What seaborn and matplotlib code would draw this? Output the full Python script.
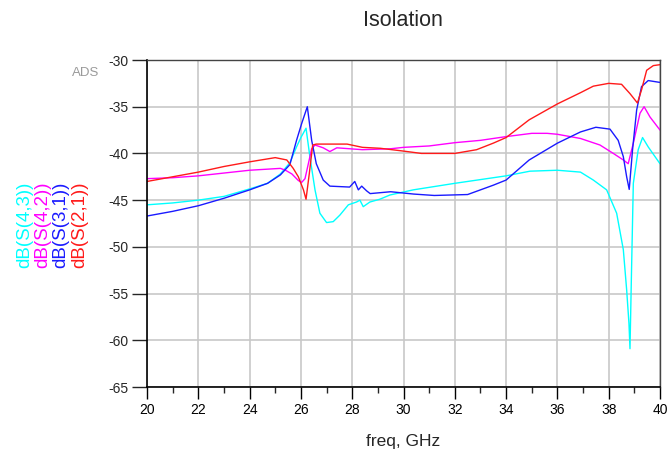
import matplotlib
matplotlib.use("Agg")
import matplotlib.pyplot as plt
import seaborn as sns
import pandas as pd
from matplotlib.ticker import MultipleLocator

# ---- data ----
freq_s21 = [20, 21, 22, 23, 24, 25, 25.45, 25.7, 25.9, 26.1, 26.2, 26.33, 26.46, 26.6,
            27.1, 27.8, 28.4, 29.1, 30, 30.7, 32, 32.85, 33.5, 34, 34.9, 36, 36.9, 37.4,
            38.0, 38.5, 38.83, 39.12, 39.28, 39.48, 39.74, 40]
db_s21 = [-43.0, -42.5, -42.0, -41.4, -40.9, -40.45, -40.7, -41.6, -42.5, -43.9, -44.9,
          -42.1, -39.1, -39.0, -39.0, -39.0, -39.35, -39.45, -39.75, -40.0, -40.0, -39.6,
          -38.9, -38.3, -36.4, -34.7, -33.5, -32.8, -32.5, -32.6, -33.6, -34.6, -33.2,
          -31.1, -30.6, -30.5]

freq_s42 = [20, 21, 22, 23, 24, 25.2, 25.4, 25.65, 25.9, 26.03, 26.16, 26.29, 26.42, 26.55,
            26.87, 27.13, 27.4, 28.4, 29.5, 30, 31, 32, 33, 34, 35, 35.6, 36, 36.9, 37.66,
            38.18, 38.57, 38.76, 38.96, 39.22, 39.38, 39.61, 40]
db_s42 = [-42.7, -42.6, -42.4, -42.1, -41.8, -41.6, -41.8, -42.2, -42.9, -43.1, -42.7,
          -41.1, -39.5, -39.1, -39.4, -39.8, -39.4, -39.6, -39.5, -39.35, -39.2, -38.85,
          -38.6, -38.2, -37.85, -37.85, -37.95, -38.4, -39.1, -40.0, -40.7, -41.1, -38.9,
          -35.7, -35.0, -36.1, -37.5]

freq_s31 = [20, 21, 22, 23, 24, 24.7, 25.2, 25.57, 25.83, 26.03, 26.25, 26.42, 26.6, 26.87,
            27.13, 27.9, 28.1, 28.24, 28.37, 28.56, 28.7, 29.5, 30.4, 31.2, 32.5, 33, 33.5,
            34, 34.9, 36, 36.9, 37.5, 38.05, 38.37, 38.57, 38.7, 38.8, 38.93, 39.09, 39.28,
            39.54, 40]
db_s31 = [-46.7, -46.2, -45.6, -44.8, -43.9, -43.2, -42.3, -41.2, -38.6, -36.8, -35.0,
          -38.6, -41.1, -42.85, -43.5, -43.6, -43.0, -43.9, -43.5, -44.0, -44.3, -44.1,
          -44.35, -44.5, -44.4, -43.9, -43.4, -42.85, -40.7, -38.9, -37.7, -37.2, -37.4,
          -38.6, -40.35, -42.5, -43.85, -39.6, -35.35, -32.85, -32.2, -32.4]

freq_s43 = [20, 21, 22, 23, 24, 24.7, 25.2, 25.57, 25.83, 26.0, 26.2, 26.35, 26.55, 26.74,
            27.0, 27.26, 27.52, 27.85, 28.17, 28.3, 28.43, 28.69, 29.08, 29.47, 30.38, 32,
            34, 34.93, 36, 36.9, 37.4, 37.92, 38.31, 38.57, 38.7, 38.79, 38.83, 38.88,
            38.96, 39.15, 39.32, 39.54, 40]
db_s43 = [-45.5, -45.3, -45.0, -44.6, -43.8, -43.2, -42.2, -41.0, -39.3, -38.3, -37.3,
          -40.35, -43.9, -46.4, -47.4, -47.3, -46.6, -45.5, -45.2, -45.0, -45.7, -45.2,
          -44.9, -44.45, -43.9, -43.2, -42.4, -41.9, -41.8, -42.0, -42.85, -43.9, -46.4,
          -50.3, -54.6, -58.2, -60.9, -53.9, -43.2, -39.6, -38.3, -39.3, -41.1]

trace_names = ["dB(S(4,3))", "dB(S(4,2))", "dB(S(3,1))", "dB(S(2,1))"]
x_ticks = list(range(20, 41, 2))
y_ticks = list(range(-65, -29, 5))

# ---- styling ----
colors = {"dB(S(4,3))": "#00ffff", "dB(S(4,2))": "#ff00ff",
          "dB(S(3,1))": "#1a1aff", "dB(S(2,1))": "#ff1a1a"}

sns.set_style("white")
plt.rcParams["font.family"] = ["Liberation Sans", "DejaVu Sans"]
plt.rcParams["axes.unicode_minus"] = False

frames = []
for name, f, v in zip(trace_names, [freq_s43, freq_s42, freq_s31, freq_s21],
                      [db_s43, db_s42, db_s31, db_s21]):
    frames.append(pd.DataFrame({"freq": f, "dB": v, "trace": name}))
df = pd.concat(frames, ignore_index=True)

fig = plt.figure(figsize=(6.67, 4.59), dpi=100)
ax = fig.add_axes([147 / 667, 1 - 387 / 459, (660 - 147) / 667, (387 - 60) / 459])

sns.lineplot(data=df, x="freq", y="dB", hue="trace", hue_order=trace_names,
             palette=colors, estimator=None, sort=False, legend=False,
             linewidth=1.0, ax=ax)

ax.set_xlim(20, 40)
ax.set_ylim(-65, -30)
ax.set_xticks(x_ticks)
ax.set_yticks(y_ticks)
ax.xaxis.set_minor_locator(MultipleLocator(1))
ax.grid(True, which="major", color="#c8c8c8", linewidth=1.2)
ax.set_axisbelow(True)

ax.tick_params(axis="x", which="major", direction="out", length=8.5, width=1,
               labelsize=10, pad=3, colors="black")
ax.tick_params(axis="x", which="minor", direction="out", length=4.5, width=1,
               bottom=True)
ax.tick_params(axis="y", which="major", direction="out", length=11, width=1,
               labelsize=10, pad=2, left=True)
ax.tick_params(axis="x", bottom=True)

for side in ("left", "bottom"):
    ax.spines[side].set_color("black")
    ax.spines[side].set_linewidth(1.2)
for side in ("top", "right"):
    ax.spines[side].set_color("#444444")
    ax.spines[side].set_linewidth(1.0)

ax.set_xlabel("freq, GHz", fontsize=12.5, labelpad=12)
ax.set_ylabel("")
fig.text(403 / 667, 1 - 20 / 459, "Isolation", fontsize=15.5, ha="center",
         va="center")

fig.text(86 / 667, 1 - 73 / 459, "ADS", fontsize=9.5, color="#9a9a9a",
         ha="center", va="center")

legend_x = [25, 43, 61, 80]
for name, xp in zip(trace_names, legend_x):
    fig.text(xp / 667, 1 - 268 / 459, name, rotation=90, fontsize=13.5,
             color=colors[name], ha="center", va="bottom")

fig.savefig("out.png", dpi=100)
